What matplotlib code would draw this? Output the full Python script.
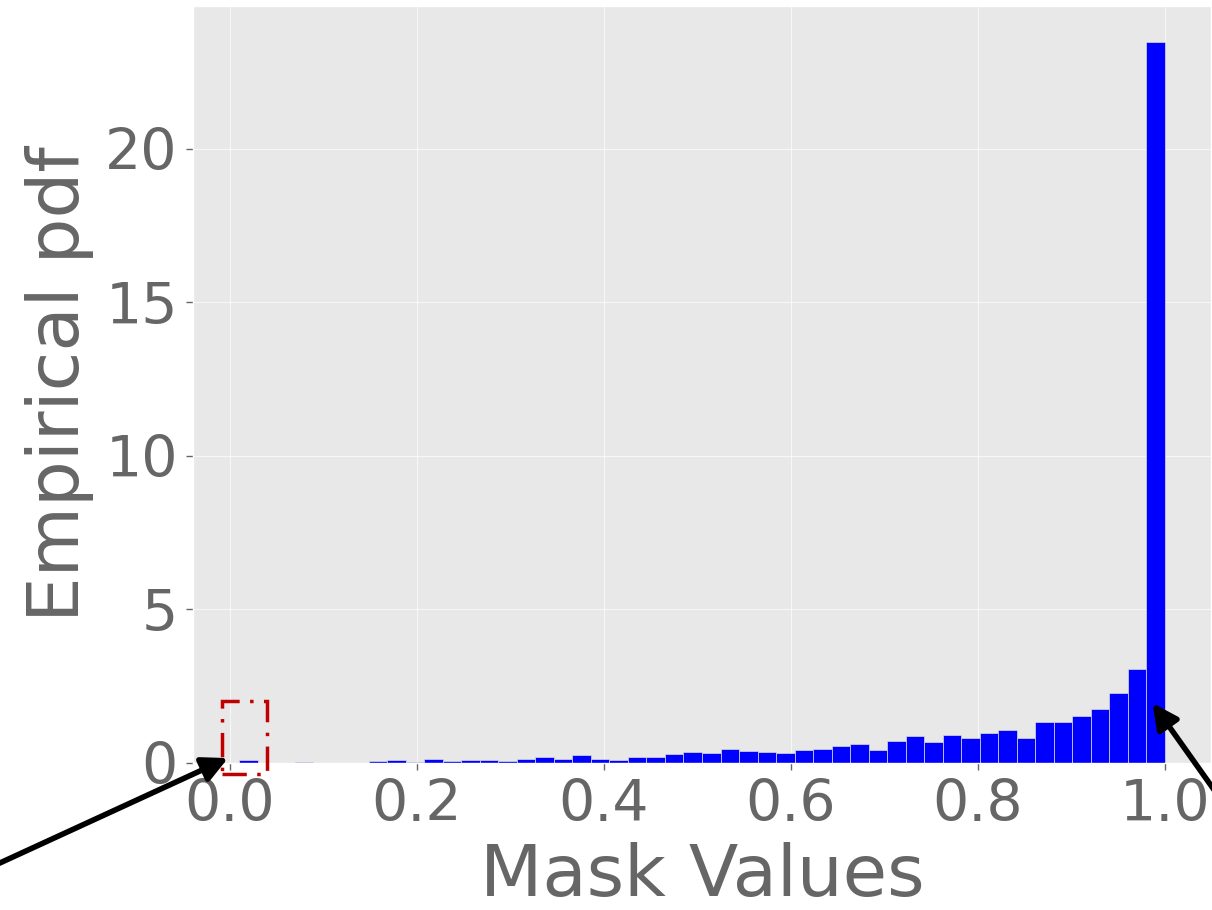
import numpy as np
import matplotlib
matplotlib.use("Agg")
import matplotlib.pyplot as plt
from matplotlib.patches import Rectangle

# histogram of mask values: 50 equal bins between the data min and max
bin_lo = 0.01
bin_hi = 1.0
n_bins = 50
density = [
    0.11, 0.0, 0.015, 0.045, 0.01, 0.015, 0.01, 0.055, 0.085, 0.02,
    0.13, 0.065, 0.09, 0.09, 0.06, 0.115, 0.20, 0.125, 0.26, 0.125,
    0.09, 0.20, 0.185, 0.28, 0.36, 0.31, 0.47, 0.38, 0.35, 0.31,
    0.42, 0.47, 0.55, 0.62, 0.42, 0.73, 0.87, 0.69, 0.90, 0.81,
    0.98, 1.07, 0.80, 1.34, 1.32, 1.54, 1.75, 2.29, 3.05, 23.48,
]
xticks = [0.0, 0.2, 0.4, 0.6, 0.8, 1.0]
yticks = [0, 5, 10, 15, 20]

plt.style.use("ggplot")
txt = "#666666"

fig = plt.figure(figsize=(12.12, 9.10), dpi=100)
ax = fig.add_axes([193 / 1212, 147 / 910, 1018 / 1212, 757 / 910])
ax.set_facecolor("#e8e8e8")

edges = np.linspace(bin_lo, bin_hi, n_bins + 1)
centers = (edges[:-1] + edges[1:]) / 2
ax.hist(centers, bins=edges, weights=density, color="blue",
        edgecolor="#dddddd", linewidth=0.5)

ax.set_xticks(xticks)
ax.set_xticklabels([f"{t:.1f}" for t in xticks])
ax.set_yticks(yticks)
ax.tick_params(labelsize=41, colors=txt, length=5, width=1, pad=6)
ax.set_xlabel("Mask Values", fontsize=52, color=txt, labelpad=6)
ax.set_ylabel("Empirical pdf", fontsize=52, color=txt, labelpad=8)
ax.grid(color="white", linewidth=0.6, alpha=0.8)

# highlight box around the zero bin
ax.add_patch(Rectangle((-0.009, -0.36), 0.049, 2.39, fill=False,
                       edgecolor="#c00000", linestyle=(0, (7, 3, 1, 3)),
                       linewidth=2.5, clip_on=False, zorder=5))

arrow = dict(arrowstyle="-|>", color="black", lw=4, mutation_scale=38,
             shrinkA=0, shrinkB=0)
ax.annotate("", xy=(-0.002, 0.16), xycoords="data",
            xytext=(-0.01, 0.0456), textcoords="figure fraction",
            arrowprops=arrow, annotation_clip=False)
ax.annotate("", xy=(0.987, 1.95), xycoords="data",
            xytext=(1.01, 0.1165), textcoords="figure fraction",
            arrowprops=arrow, annotation_clip=False)

fig.savefig("out.png", dpi=100)
plt.close(fig)
